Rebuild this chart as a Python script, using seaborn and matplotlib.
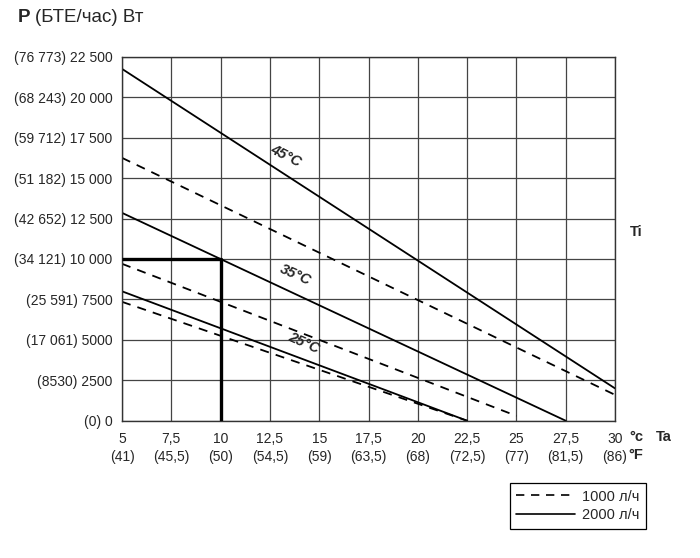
import matplotlib
matplotlib.use('Agg')
import matplotlib.pyplot as plt
from matplotlib.lines import Line2D
import seaborn as sns
import pandas as pd

# data (straight lines, start and end points)
ti_labels = ['45°C', '45°C', '35°C', '35°C', '25°C', '25°C']
flow = ['1000 л/ч', '2000 л/ч', '1000 л/ч', '2000 л/ч', '1000 л/ч', '2000 л/ч']
ta_start = [5, 5, 5, 5, 5, 5]
ta_end = [30, 30, 25, 27.5, 22.5, 22.5]
p_start = [16250, 21750, 9700, 12850, 7350, 8000]
p_end = [1600, 2000, 300, 0, 0, 0]

# example reading (Ta = 10, P = 10000)
example_ta = [5, 10, 10]
example_p = [10000, 10000, 0]

x_ticks = [5, 7.5, 10, 12.5, 15, 17.5, 20, 22.5, 25, 27.5, 30]
x_labels = ['5\n(41)', '7,5\n(45,5)', '10\n(50)', '12,5\n(54,5)', '15\n(59)', '17,5\n(63,5)',
            '20\n(68)', '22,5\n(72,5)', '25\n(77)', '27,5\n(81,5)', '30\n(86)']
y_ticks = [0, 2500, 5000, 7500, 10000, 12500, 15000, 17500, 20000, 22500]
y_labels = ['(0) 0', '(8530) 2500', '(17 061) 5000', '(25 591) 7500', '(34 121) 10 000',
            '(42 652) 12 500', '(51 182) 15 000', '(59 712) 17 500', '(68 243) 20 000',
            '(76 773) 22 500']

# curve labels
curve_names = ['45°C', '35°C', '25°C']
curve_x = [13.3, 13.8, 14.2]
curve_y = [16400, 9000, 4800]
curve_rot = [-27, -24, -24]

rows = []
for i in range(len(ti_labels)):
    rows.append({'id': i, 'Ti': ti_labels[i], 'flow': flow[i], 'Ta': ta_start[i], 'P': p_start[i]})
    rows.append({'id': i, 'Ti': ti_labels[i], 'flow': flow[i], 'Ta': ta_end[i], 'P': p_end[i]})
df = pd.DataFrame(rows)

sns.set_style('white')
plt.rcParams['font.family'] = ['Liberation Sans', 'DejaVu Sans']

fig = plt.figure(figsize=(7, 5.58), dpi=100)
ax = fig.add_axes([0.1743, 0.246, 0.7043, 0.6523])

for i, g in df.groupby('id'):
    f = g['flow'].iloc[0]
    sns.lineplot(data=g, x='Ta', y='P', ax=ax, color='black', linewidth=1.3,
                 sort=False, estimator=None,
                 linestyle='--' if f == '1000 л/ч' else '-')
for line in ax.lines:
    if line.get_linestyle() == '--':
        line.set_dashes((5, 4))

ax.plot(example_ta, example_p, color='black', linewidth=2.4, solid_capstyle='butt', zorder=5)

for name, cx, cy, r in zip(curve_names, curve_x, curve_y, curve_rot):
    ax.text(cx, cy, name, rotation=r, ha='center', va='center', fontsize=10.5,
            fontweight='bold', fontstyle='italic')

ax.set_xlim(5, 30)
ax.set_ylim(0, 22500)
ax.set_xticks(x_ticks)
ax.set_xticklabels(x_labels, fontsize=10, linespacing=1.35)
ax.set_yticks(y_ticks)
ax.set_yticklabels(y_labels, fontsize=10)
ax.tick_params(axis='both', length=0, pad=8)
ax.tick_params(axis='y', pad=7)
ax.grid(True, color='#444444', linewidth=0.9)
for s in ax.spines.values():
    s.set_color('#333333')
    s.set_linewidth(1.0)
ax.set_xlabel('')
ax.set_ylabel('')

# legend
handles = [Line2D([], [], color='black', linewidth=1.2, linestyle=(0, (5, 4))),
           Line2D([], [], color='black', linewidth=1.2)]
leg = ax.legend(handles, ['1000 л/ч', '2000 л/ч'], loc='upper right',
                bbox_to_anchor=(646 / 700, 1 - 483 / 558), bbox_transform=fig.transFigure,
                borderaxespad=0, fancybox=False, edgecolor='black', fontsize=10.5,
                handlelength=4.0, handletextpad=0.5, borderpad=0.45, labelspacing=0.3,
                framealpha=1)
leg.get_frame().set_linewidth(0.9)

# axis annotations
fig.text(18 / 700, 1 - 18 / 558, 'P', fontsize=13.5, fontweight='bold', va='center', ha='left')
fig.text(35 / 700, 1 - 18 / 558, '(БТЕ/час) Вт', fontsize=13.5, va='center', ha='left')
fig.text(629 / 700, 1 - 437 / 558, '°c', fontsize=10.5, fontweight='bold', va='center', ha='left')
fig.text(628 / 700, 1 - 455 / 558, '°F', fontsize=10.5, fontweight='bold', va='center', ha='left')
fig.text(656 / 700, 1 - 437 / 558, 'Ta', fontsize=10.5, fontweight='bold', va='center', ha='left')
fig.text(630 / 700, 1 - 232 / 558, 'Ti', fontsize=10.5, fontweight='bold', va='center', ha='left')

fig.savefig('out.png', dpi=100, facecolor='white')
